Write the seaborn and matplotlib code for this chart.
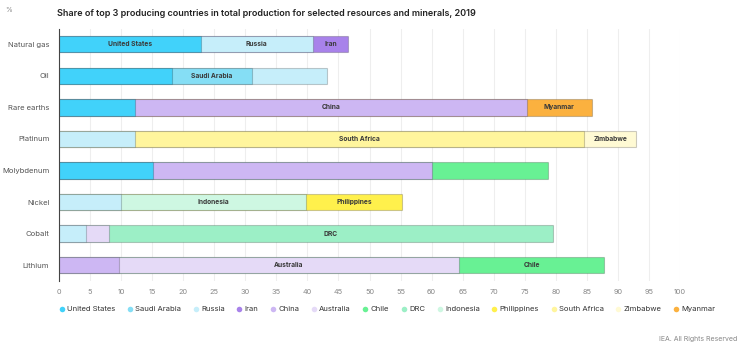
import numpy as np
import pandas as pd
import matplotlib
matplotlib.use("Agg")
import matplotlib.pyplot as plt
from matplotlib.lines import Line2D
import seaborn as sns

resources = ["Natural gas", "Oil", "Rare earths", "Platinum", "Molybdenum", "Nickel", "Cobalt", "Lithium"]
country_1 = ["United States", "United States", "United States", "Russia", "United States", "Russia", "Russia", "China"]
country_2 = ["Russia", "Saudi Arabia", "China", "South Africa", "China", "Indonesia", "Australia", "Australia"]
country_3 = ["Iran", "Russia", "Myanmar", "Zimbabwe", "Chile", "Philippines", "DRC", "Chile"]
share_1 = [22.8, 18.2, 12.3, 12.2, 15.2, 10.0, 4.3, 9.6]
share_2 = [18.1, 12.8, 63.0, 72.4, 44.8, 29.7, 3.7, 54.8]
share_3 = [5.7, 12.2, 10.5, 8.3, 18.8, 15.6, 71.5, 23.4]
# segment labels shown inside bars (empty = no label)
label_1 = ["United States", "", "", "", "", "", "", ""]
label_2 = ["Russia", "Saudi Arabia", "China", "South Africa", "", "Indonesia", "", "Australia"]
label_3 = ["Iran", "", "Myanmar", "Zimbabwe", "", "Philippines", "DRC", "Chile"]

legend_countries = ["United States", "Saudi Arabia", "Russia", "Iran", "China", "Australia",
                    "Chile", "DRC", "Indonesia", "Philippines", "South Africa", "Zimbabwe", "Myanmar"]
colors = {
    "United States": "#41d2fa",
    "Saudi Arabia": "#85def5",
    "Russia": "#c6eefa",
    "Iran": "#a882ea",
    "China": "#cdb7f3",
    "Australia": "#e5daf7",
    "Chile": "#68f194",
    "DRC": "#9cefc6",
    "Indonesia": "#cef7e2",
    "Philippines": "#fff04c",
    "South Africa": "#fff59d",
    "Zimbabwe": "#fffad4",
    "Myanmar": "#fbb13f",
}

sns.set_theme(style="white")
plt.rcParams['font.family'] = ['Inter', 'DejaVu Sans']

df = pd.DataFrame({"resource": resources, "c1": country_1, "c2": country_2, "c3": country_3,
                   "s1": share_1, "s2": share_2, "s3": share_3})
df["cum1"] = df["s1"]
df["cum2"] = df["s1"] + df["s2"]
df["cum3"] = df["cum2"] + df["s3"]

fig = plt.figure(figsize=(7.4, 3.49), dpi=100)
ax = fig.add_axes([59/740, 1-281/349, (680-59)/740, (281-28.5)/349])

edge = "#00000033"
for cum_col, c_col in [("cum3", "c3"), ("cum2", "c2"), ("cum1", "c1")]:
    pal = {r: colors[c] for r, c in zip(df["resource"], df[c_col])}
    sns.barplot(data=df, x=cum_col, y="resource", hue="resource", palette=pal,
                legend=False, orient="h", width=0.52, edgecolor=edge, linewidth=0.8,
                saturation=1, ax=ax, order=resources, hue_order=resources)

# labels inside segments
for i, r in enumerate(resources):
    starts = [0, share_1[i], share_1[i] + share_2[i]]
    widths = [share_1[i], share_2[i], share_3[i]]
    labs = [label_1[i], label_2[i], label_3[i]]
    for s, w, lab in zip(starts, widths, labs):
        if lab:
            ax.text(s + w / 2, i, lab, ha="center", va="center", fontsize=4.8,
                    fontweight="bold", color="#3a3a3a")

ax.set_xlim(0, 100)
ax.set_ylim(7.5, -0.5)
ax.set_xticks(np.arange(0, 101, 5))
ax.set_xticklabels([str(v) for v in range(0, 101, 5)], fontsize=5.3, color="#888888")
ax.set_yticks(range(len(resources)))
ax.set_yticklabels(resources, fontsize=5.5, color="#555555")
ax.set_yticks(np.arange(-0.5, 8, 1), minor=True)
ax.tick_params(axis="y", which="major", length=0, pad=7)
ax.tick_params(axis="y", which="minor", length=5, width=0.8, color="#444444", direction="out")
ax.tick_params(axis="x", length=0, pad=6)
ax.set_xlabel("")
ax.set_ylabel("")
ax.grid(axis="x", color="#eeeeee", linewidth=0.8)
ax.set_axisbelow(True)
for side in ["top", "right", "bottom"]:
    ax.spines[side].set_visible(False)
ax.spines["left"].set_color("#444444")
ax.spines["left"].set_linewidth(0.8)

fig.text(57/740, 1-13/349, "Share of top 3 producing countries in total production for selected resources and minerals, 2019",
         fontsize=6.5, fontweight="semibold", color="#222222", va="center", ha="left")
fig.text(5/740, 1-10/349, "%", fontsize=5, color="#888888", va="center", ha="left")
fig.text(737/740, 1-339/349, "IEA. All Rights Reserved", fontsize=5, color="#888888", va="center", ha="right")

handles = [Line2D([0], [0], marker="o", linestyle="", markersize=4, markerfacecolor=colors[c],
                  markeredgewidth=0, label=c) for c in legend_countries]
leg = fig.legend(handles=handles, loc="center left", bbox_to_anchor=(58/740, 1-309/349), ncol=13,
                 frameon=False, fontsize=5.5, handletextpad=0.2, columnspacing=1.4, handlelength=1,
                 borderpad=0, borderaxespad=0)
for t in leg.get_texts():
    t.set_color("#333333")

fig.savefig("out.png", dpi=100)
